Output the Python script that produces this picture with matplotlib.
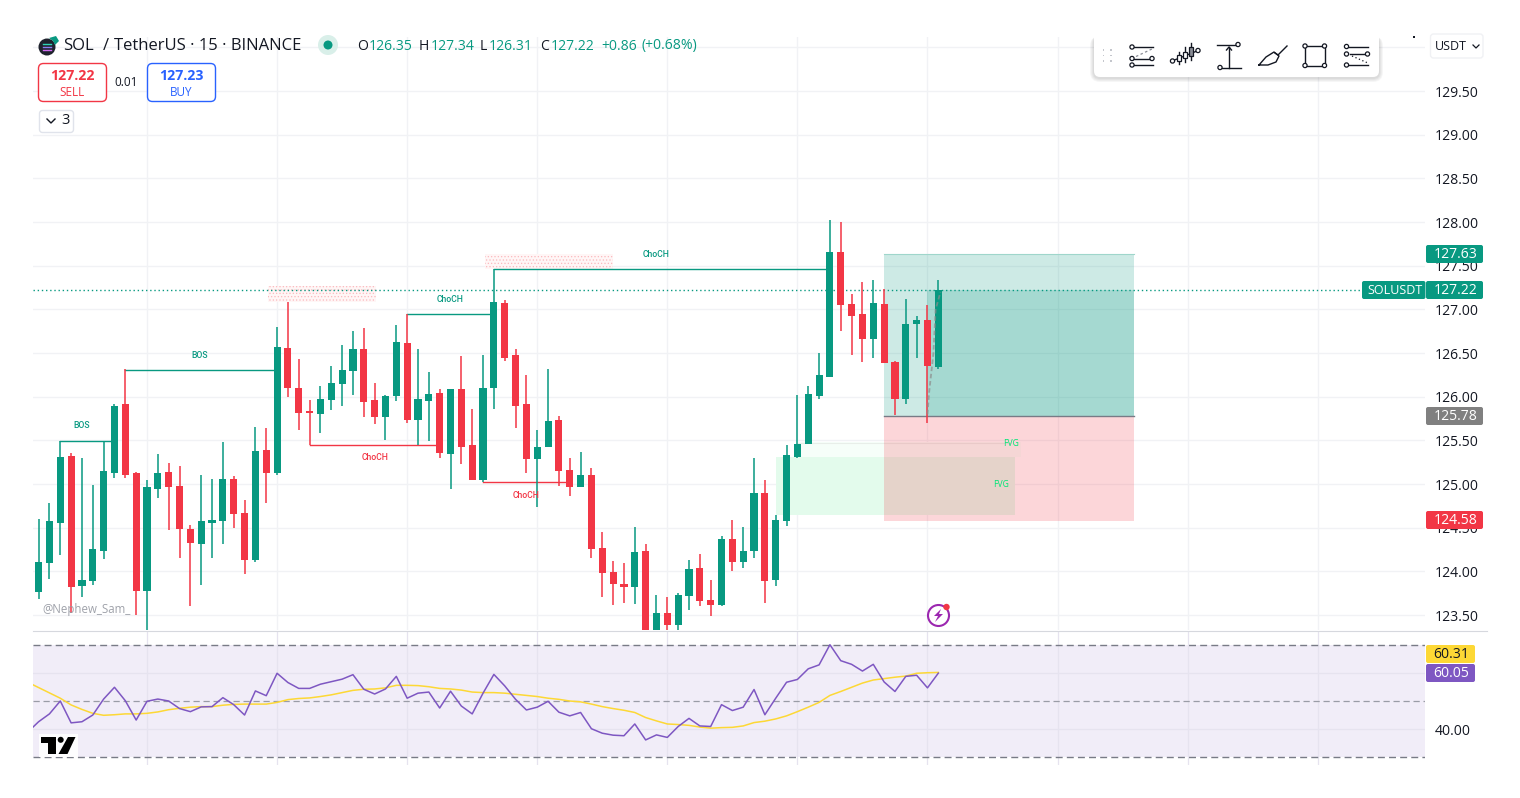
import numpy as np
import matplotlib
matplotlib.use('Agg')
import matplotlib.pyplot as plt
from matplotlib.patches import Rectangle, FancyBboxPatch, Circle, Polygon

plt.rcParams['font.family'] = ['Open Sans', 'DejaVu Sans']

# candles
opens = [123.76, 124.10, 124.55, 125.32, 123.83, 123.89, 124.24, 125.13, 125.92, 125.13,
         123.78, 124.95, 125.14, 124.98, 124.49, 124.31, 124.55, 124.58, 125.06, 124.67,
         124.13, 125.39, 125.13, 126.56, 126.10, 125.84, 125.80, 125.96, 126.15, 126.29,
         126.55, 125.96, 125.77, 126.01, 126.62, 125.73, 125.95, 126.04, 125.34, 126.09,
         125.45, 125.05, 126.10, 127.07, 126.48, 125.92, 125.29, 125.43, 125.73, 125.16,
         124.97, 125.10, 124.27, 123.99, 123.86, 123.82, 124.23, 123.30, 123.53, 123.39,
         123.72, 124.04, 123.67, 123.62, 124.37, 124.11, 124.24, 124.90, 123.90, 124.58,
         125.31, 125.46, 126.01, 126.23, 127.66, 127.06, 126.95, 126.66, 127.06, 126.40,
         125.97, 126.83, 126.88, 126.34]
closes = [124.11, 124.58, 125.31, 123.82, 123.90, 124.26, 125.15, 125.90, 125.10, 123.78,
          124.97, 125.13, 124.97, 124.49, 124.33, 124.58, 124.59, 125.06, 124.66, 124.13,
          125.38, 125.13, 126.57, 126.10, 125.81, 125.82, 125.97, 126.16, 126.31, 126.55,
          125.94, 125.77, 126.01, 126.63, 125.73, 125.97, 126.03, 125.36, 126.09, 125.43,
          125.05, 126.10, 127.08, 126.45, 125.90, 125.29, 125.43, 125.72, 125.15, 124.97,
          125.11, 124.26, 123.98, 123.86, 123.82, 124.22, 123.30, 123.52, 123.39, 123.73,
          124.03, 123.66, 123.62, 124.37, 124.11, 124.24, 124.90, 123.89, 124.59, 125.33,
          125.46, 126.03, 126.25, 127.66, 127.05, 126.92, 126.66, 127.07, 126.39, 125.98,
          126.83, 126.88, 126.35, 127.22]
highs = [124.60, 124.78, 125.49, 125.36, 125.30, 124.99, 125.48, 125.92, 126.32, 125.14,
         125.05, 125.34, 125.24, 125.21, 124.53, 125.10, 125.06, 125.48, 125.09, 124.82,
         125.65, 125.64, 126.80, 127.08, 126.43, 125.96, 126.12, 126.35, 126.59, 126.75,
         126.79, 126.16, 126.02, 126.82, 126.95, 126.55, 126.28, 126.09, 126.09, 126.47,
         125.86, 126.48, 127.46, 127.11, 126.55, 126.25, 125.62, 126.32, 125.78, 125.30,
         125.37, 125.18, 124.45, 124.12, 124.10, 124.51, 124.31, 123.73, 123.71, 123.75,
         124.13, 124.20, 123.90, 124.41, 124.59, 124.51, 125.30, 125.05, 124.65, 125.45,
         126.02, 126.12, 126.50, 128.03, 128.00, 127.18, 127.32, 127.34, 127.23, 126.41,
         127.12, 126.92, 127.05, 127.34]
lows = [123.68, 123.91, 124.19, 123.52, 123.71, 123.84, 124.14, 125.07, 125.07, 123.50,
        123.33, 124.84, 124.47, 124.16, 123.60, 123.84, 124.16, 124.31, 124.50, 123.97,
        124.11, 124.78, 125.10, 126.00, 125.62, 125.45, 125.58, 125.85, 125.90, 126.02,
        125.77, 125.69, 125.50, 125.95, 125.70, 125.45, 125.49, 125.30, 124.94, 125.23,
        125.05, 125.02, 125.86, 126.41, 125.64, 125.13, 124.74, 125.43, 124.98, 124.87,
        124.97, 124.15, 123.71, 123.62, 123.64, 123.63, 123.30, 123.28, 123.30, 123.30,
        123.56, 123.60, 123.49, 123.60, 124.00, 124.04, 124.16, 123.64, 123.83, 124.52,
        125.30, 125.46, 125.97, 126.23, 126.75, 126.48, 126.40, 126.45, 126.39, 125.79,
        125.92, 126.44, 125.70, 126.32]

# RSI pane, first value belongs to the bar just off the left edge
rsi = [39.0, 42.7, 45.5, 50.1, 42.3, 42.7, 45.1, 50.8, 55.0, 50.2, 43.3, 50.0, 50.8, 50.1, 47.4,
       46.3, 48.0, 48.1, 51.3, 48.8, 45.1, 53.7, 52.0, 60.0, 56.7, 54.6, 54.6, 56.1, 57.0, 57.9,
       59.5, 54.3, 52.6, 54.4, 58.9, 51.1, 52.9, 53.3, 47.6, 53.6, 48.3, 45.5, 52.9, 59.6, 55.5,
       50.7, 46.9, 47.9, 50.0, 46.1, 44.8, 46.0, 40.2, 38.6, 37.9, 37.7, 41.9, 36.2, 38.0, 37.1,
       41.0, 43.9, 41.2, 41.0, 48.8, 46.7, 47.9, 54.2, 45.2, 51.1, 56.8, 57.8, 61.6, 63.0, 70.2,
       64.5, 63.2, 60.8, 63.2, 56.9, 53.5, 58.9, 59.3, 54.8, 60.05]
rsi_ma = [56.8, 54.9, 53.0, 51.1, 48.7, 47.1, 45.7, 45.0, 45.2, 45.5, 45.5, 45.7, 46.2, 47.0, 47.5,
          47.9, 48.1, 48.1, 48.6, 48.9, 49.0, 49.0, 49.0, 49.6, 50.6, 51.0, 51.2, 51.7, 52.3, 53.1,
          53.9, 54.3, 54.4, 54.8, 55.7, 55.7, 55.6, 55.2, 54.6, 54.4, 54.0, 53.3, 53.1, 53.1, 52.9,
          52.5, 52.1, 51.7, 51.1, 50.7, 50.1, 49.8, 49.0, 48.1, 47.4, 46.8, 46.0, 44.2, 43.0, 41.9,
          41.7, 41.4, 40.8, 40.4, 40.6, 40.7, 41.2, 42.4, 42.9, 43.7, 44.8, 46.3, 47.9, 49.6, 52.1,
          53.5, 55.0, 56.5, 57.6, 58.1, 58.6, 59.0, 60.0, 60.2, 60.31]

price_ticks = [123.5, 124.0, 124.5, 125.0, 125.5, 126.0, 126.5, 127.0, 127.5, 128.0, 128.5, 129.0, 129.5]
time_grid = [10, 22, 34, 46, 58, 70, 82, 94, 106, 118]
last_price = 127.22
target_price = 127.63
entry_price = 125.78
stop_price = 124.58

# (start bar, end bar, price, colour, label, label bar, label price)
structure = [
    (2, 7, 125.49, 'g', 'BOS', 3.93, 125.67),
    (8, 22, 126.31, 'g', 'BOS', 14.9, 126.47),
    (25, 37, 125.45, 'r', 'ChoCH', 31.0, 125.30),
    (34, 42, 126.95, 'g', 'ChoCH', 37.95, 127.12),
    (42, 73, 127.46, 'g', 'ChoCH', 57.0, 127.63),
    (41, 49, 125.02, 'r', 'ChoCH', 45.0, 124.87),
]

GREEN = '#089981'
RED = '#f23645'
W, H = 1520, 798
fig = plt.figure(figsize=(W / 100, H / 100), dpi=100, facecolor='white')


def pane(left, top, right, bottom):
    return fig.add_axes([left / W, 1 - bottom / H, (right - left) / W, (bottom - top) / H])


xlim = ((33 - 38.6) / 10.84, (1425 - 38.6) / 10.84)
ax = pane(33, 37, 1425, 630)
ax.set_xlim(xlim)
ax.set_ylim(123.33, 130.12)
ax.yaxis.tick_right()
ax.set_xticks(time_grid)
ax.set_xticklabels([])
ax.set_yticks(price_ticks + [130.0])
ax.set_yticklabels(['%.2f' % p for p in price_ticks] + [''])
ax.tick_params(axis='both', length=0)
ax.tick_params(axis='y', pad=7, labelsize=10.1, labelcolor='#131722')
ax.grid(color='#f1f2f5', lw=1)
ax.set_axisbelow(True)
for s in ax.spines.values():
    s.set_visible(False)

# zones under the candles
ax.add_patch(Rectangle((68, 124.65), 22.1, 0.66, fc='#e3fbec', ec='none', zorder=1))
ax.add_patch(Rectangle((70, 125.31), 20.6, 0.17, fc='#f6fef9', ec='none', zorder=1))
ax.plot([70, 89.7], [125.47, 125.47], color='#e8eee9', lw=0.8, zorder=1)
ax.add_patch(Rectangle((78, entry_price), 23.05, target_price - entry_price, fc=GREEN, alpha=0.2, ec='none', zorder=1.5))
ax.add_patch(Rectangle((82, entry_price), 19.05, last_price - entry_price, fc=GREEN, alpha=0.2, ec='none', zorder=1.5))
ax.add_patch(Rectangle((78, stop_price), 23.05, entry_price - stop_price, fc=RED, alpha=0.2, ec='none', zorder=1.5))
ax.plot([78, 101.05], [entry_price, entry_price], color='#787b86', lw=1, zorder=1.6)
ax.plot([78, 101.05], [target_price, target_price], color='#9fd6cb', lw=0.8, zorder=1.6)

# supply blocks
plt.rcParams['hatch.linewidth'] = 0.5
for bx0, bx1, p0, p1 in [(21.16, 31.13, 127.08, 127.27), (41.18, 52.99, 127.46, 127.64)]:
    ax.add_patch(Rectangle((bx0, p0), bx1 - bx0, p1 - p0, fc='#fff6f6', ec='#fbb9be', lw=0, hatch='.....', zorder=1))

# structure lines
for x0, x1, p, c, label, lx, ly in structure:
    col = GREEN if c == 'g' else RED
    ax.plot([x0, x1], [p, p], color=col, lw=1, zorder=2)
    ax.text(lx, ly, label, color=col, fontsize=6.2, fontweight='medium', ha='center', va='center', zorder=5,
            family=['Roboto', 'DejaVu Sans'])

ax.text(89.7, 125.47, 'FVG', color='#00e676', fontsize=6.2, fontweight='medium', ha='center', va='center', zorder=5)
ax.text(88.8, 125.0, 'FVG', color='#00e676', fontsize=6.2, fontweight='medium', ha='center', va='center', zorder=5)

# candles
xs = np.arange(len(opens))
opens_a = np.array(opens)
closes_a = np.array(closes)
colors = [GREEN if c >= o else RED for o, c in zip(opens, closes)]
ax.vlines(xs, lows, highs, colors=colors, lw=1.1, zorder=3)
body_bottom = np.minimum(opens_a, closes_a)
body_height = np.maximum(np.abs(closes_a - opens_a), 0.015)
ax.bar(xs, body_height, bottom=body_bottom, width=0.66, color=colors, lw=0, zorder=3.1)

# last price and projected dashed path
ax.axhline(last_price, xmax=(1363 - 33) / (1425 - 33), color=GREEN, lw=1, ls=(0, (1, 2)), zorder=2.5)
ax.plot([82, 82.15, 82.55, 82.75, 83.2], [125.8, 126.05, 126.5, 127.0, 127.2], color='#8c8c8c', lw=1.3,
        ls=(0, (2.5, 1.5)), alpha=0.7, zorder=3.5)

# RSI pane
ax2 = pane(33, 631, 1425, 765)
ax2.set_xlim(xlim)
ax2.set_ylim(27.25, 75.1)
ax2.yaxis.tick_right()
ax2.set_xticks(time_grid)
ax2.set_xticklabels([])
ax2.set_yticks([40, 60])
ax2.set_yticklabels(['40.00', ''])
ax2.tick_params(axis='both', length=0)
ax2.tick_params(axis='y', pad=7, labelsize=10.1, labelcolor='#131722')
ax2.grid(color='#e6e3ef', lw=0.9)
ax2.set_axisbelow(True)
for s in ax2.spines.values():
    s.set_visible(False)
for t in ax.get_yticklabels() + ax2.get_yticklabels():
    t.set_verticalalignment('center_baseline')
ax2.axhspan(30, 70, fc='#7e57c2', alpha=0.1, ec='none', zorder=0)
ax2.axhline(70, color='#787b86', lw=1, ls=(0, (5, 3)), zorder=1)
ax2.axhline(50, color='#9a9ca6', lw=0.9, ls=(0, (5, 3)), zorder=1)
ax2.axhline(30, color='#787b86', lw=1, ls=(0, (5, 3)), zorder=1)
rsi_x = np.arange(-1, 84)
ax2.plot(rsi_x, rsi_ma, color='#fdd835', lw=1.1, zorder=2)
ax2.plot(rsi_x, rsi, color='#7e57c2', lw=1.1, zorder=3)

# everything else sits on a pixel-scaled overlay
ov = fig.add_axes([0, 0, 1, 1], zorder=10)
ov.set_xlim(0, W)
ov.set_ylim(H, 0)
ov.axis('off')
ov.patch.set_alpha(0)

ov.plot([33, 1487], [630.5, 630.5], color='#d6d8de', lw=0.8)


def round_box(x0, y0, x1, y1, fc, ec='none', r=2, lw=1, z=3, alpha=None):
    ov.add_patch(FancyBboxPatch((x0 + r, y0 + r), x1 - x0 - 2 * r, y1 - y0 - 2 * r,
                                boxstyle='round,pad=%s,rounding_size=%s' % (r, r),
                                fc=fc, ec=ec, lw=lw, zorder=z, alpha=alpha))


def tag(x0, x1, y, txt, fc, tc='white', size=10.1):
    round_box(x0, y - 9, x1, y + 9, fc)
    ov.text((x0 + x1) / 2 + 1, y + 0.5, txt, color=tc, fontsize=size, ha='center', va='center', zorder=4)


tag(1426, 1483, 254, '127.63', GREEN)
tag(1362, 1425.5, 290, 'SOLUSDT', GREEN, size=9)
tag(1426, 1483, 290, '127.22', GREEN)
tag(1426, 1483, 416, '125.78', '#808080')
tag(1426, 1483, 520, '124.58', RED)
tag(1426, 1475, 654, '60.31', '#fdd835', '#131722')
tag(1426, 1475, 673, '60.05', '#7e57c2')

# header
ov.add_patch(Circle((47, 47), 8.5, fc='#1e222d', ec='none'))
ov.add_patch(Polygon([(49, 38), (56, 36), (59, 41), (55, 45), (53, 41)], fc='#089981', ec='none'))
for yy, cc in [(44, '#2ed3b7'), (47, '#8a7cf0'), (50, '#d06cf0')]:
    ov.plot([43, 51], [yy, yy], color=cc, lw=1)
for tx, piece in [(63, 'SOL'), (102.5, '/'), (114, 'TetherUS · 15 · BINANCE')]:
    ov.text(tx, 46, piece, color='#131722', fontsize=12, fontweight='medium', ha='left', va='center')
ov.add_patch(Circle((328, 45), 10, fc='#d9efe9', ec='none'))
ov.add_patch(Circle((328, 45), 4.5, fc=GREEN, ec='none'))
for x_l, letter, x_v, val in [(357, 'O', 369, '126.35'), (419, 'H', 431, '127.34'),
                              (480, 'L', 489, '126.31'), (540, 'C', 551, '127.22')]:
    ov.text(x_l, 46, letter, color='#131722', fontsize=10.1, ha='left', va='center')
    ov.text(x_v, 46, val, color=GREEN, fontsize=10.1, ha='left', va='center')
ov.text(601, 46, '+0.86', color=GREEN, fontsize=10.1, ha='left', va='center')
ov.text(642, 46, '(+0.68%)', color=GREEN, fontsize=10.1, ha='left', va='center')

# order buttons
round_box(38.5, 63.5, 106.5, 101.5, 'white', RED, r=5)
ov.text(72.5, 76, '127.22', color=RED, fontsize=10.2, fontweight='bold', ha='center', va='center', zorder=4)
ov.text(72.5, 92, 'SELL', color=RED, fontsize=8.5, ha='center', va='center', zorder=4)
round_box(147.5, 63.5, 215.5, 101.5, 'white', '#2962ff', r=5)
ov.text(181.5, 76, '127.23', color='#2962ff', fontsize=10.2, fontweight='bold', ha='center', va='center', zorder=4)
ov.text(181.5, 92, 'BUY', color='#2962ff', fontsize=8.5, ha='center', va='center', zorder=4)
ov.text(126.5, 82, '0.01', color='#131722', fontsize=8.5, ha='center', va='center', zorder=4)
round_box(39.5, 110.5, 73.5, 132.5, 'white', '#e0e3eb', r=3)
ov.plot([47, 51, 55], [119, 123, 119], color='#131722', lw=1, zorder=4)
ov.text(65.5, 120.5, '3', color='#131722', fontsize=10.5, ha='center', va='center', zorder=4)

# toolbar, with a few stacked boxes for the soft shadow
for grow in (4, 3, 2, 1):
    round_box(1094 - grow, 36, 1379 + grow, 77 + grow + 1, '#000000', r=6 + grow, z=3, alpha=0.035)
round_box(1094, 30, 1379, 77, 'white', r=6, z=3.1)
ICON = {'color': '#131722', 'lw': 1, 'zorder': 5}


def dots(pts):
    for px, py in pts:
        ov.add_patch(Circle((px, py), 2.1, fc='white', ec='#131722', lw=0.9, zorder=6))


for dx in (1103.5, 1111):
    for dy in (50, 55.5, 61):
        ov.add_patch(Rectangle((dx - 0.7, dy - 0.7), 1.4, 1.4, fc='#c4c6cc', ec='none', zorder=5))
# icon 1, fib lines
for yy, x0, x1 in [(47, 1133, 1153), (58.5, 1133, 1152), (65, 1133, 1153)]:
    ov.plot([x0, x1], [yy, yy], **ICON)
ov.plot([1136, 1153], [56.5, 48.5], color='#8a8d96', lw=0.9, ls=(0, (2, 2)), zorder=5)
dots([(1132, 47), (1132, 58.5), (1152, 58.5), (1132, 65)])
# icon 2, bars
ov.plot([1172, 1197], [61, 51], **ICON)
for bx, y0, y1, by0, by1 in [(1179, 52, 64, 55, 61), (1185, 47, 62, 52, 58), (1191, 43, 60, 47, 56)]:
    ov.plot([bx, bx], [y0, y1], **ICON)
    ov.add_patch(Rectangle((bx - 1.7, by0), 3.4, by1 - by0, fc='#8a8d96' if bx == 1191 else 'white', ec='#131722', lw=0.9, zorder=5.5))
dots([(1172.5, 61), (1198, 50.5)])
# icon 3, measure
ov.plot([1217, 1236], [44.5, 44.5], **ICON)
ov.plot([1222, 1241], [67.5, 67.5], **ICON)
ov.plot([1229, 1229], [67.5, 47], **ICON)
ov.plot([1226.5, 1229, 1231.5], [50, 47, 50], **ICON)
dots([(1238, 44.5), (1220, 67.5)])
# icon 4, brush
ov.plot([1259, 1266, 1274, 1279, 1276, 1268, 1259], [65, 57, 52, 56, 62, 65, 65], **ICON)
ov.plot([1275, 1278, 1287], [53, 55, 46], **ICON)
# icon 5, rectangle
ov.add_patch(Rectangle((1305, 46), 19.5, 19.5, fc='none', ec='#131722', lw=1, zorder=5))
dots([(1305, 46), (1324.5, 46), (1305, 65.5), (1324.5, 65.5)])
# icon 6, fib with dotted diagonal
for yy, x0, x1 in [(46.5, 1347, 1368), (54, 1350, 1367), (65, 1348, 1368)]:
    ov.plot([x0, x1], [yy, yy], **ICON)
ov.plot([1352, 1369], [56, 63.5], color='#131722', lw=0.9, ls=(0, (1, 2)), zorder=5)
dots([(1346.5, 46.5), (1346.5, 54), (1367.5, 54), (1346.5, 65)])

# currency selector
round_box(1430.5, 34, 1483, 58, 'white', '#f0f1f4', r=3)
ov.text(1435, 46, 'USDT', color='#131722', fontsize=9, ha='left', va='center', zorder=4)
ov.plot([1473, 1476, 1479], [45, 48, 45], color='#131722', lw=0.9, zorder=4)
ov.add_patch(Rectangle((1413, 36), 2, 2, fc='#131722', ec='none'))

# watermark and logo
ov.text(42, 610, '@Nephew_Sam_', color='#9598a1', fontsize=8.3, ha='left', va='center', alpha=0.9, zorder=4)
ov.add_patch(Rectangle((38.5, 734), 39, 23, fc='white', alpha=0.9, ec='none', zorder=3))
ov.add_patch(Polygon([(41, 737), (56, 737), (56, 754), (48.3, 754), (48.3, 743.3), (41, 743.3)], fc='#000000', ec='none', zorder=4))
ov.add_patch(Circle((60.7, 739.8), 3, fc='#000000', ec='none', zorder=4))
ov.add_patch(Polygon([(68, 737), (75.5, 737), (67.5, 754), (58.5, 754)], fc='#000000', ec='none', zorder=4))

# lightning badge
ov.add_patch(Circle((938.5, 615.5), 10.5, fc='white', ec='#9c27b0', lw=1.5, zorder=4))
ov.add_patch(Polygon([(941, 609), (934, 616), (938, 616), (935, 622), (943, 614), (939, 614)], fc='#9c27b0', ec='none', zorder=5))
ov.add_patch(Circle((946.5, 607), 3.2, fc=RED, ec='none', zorder=5))

fig.savefig('out.png', dpi=100)
